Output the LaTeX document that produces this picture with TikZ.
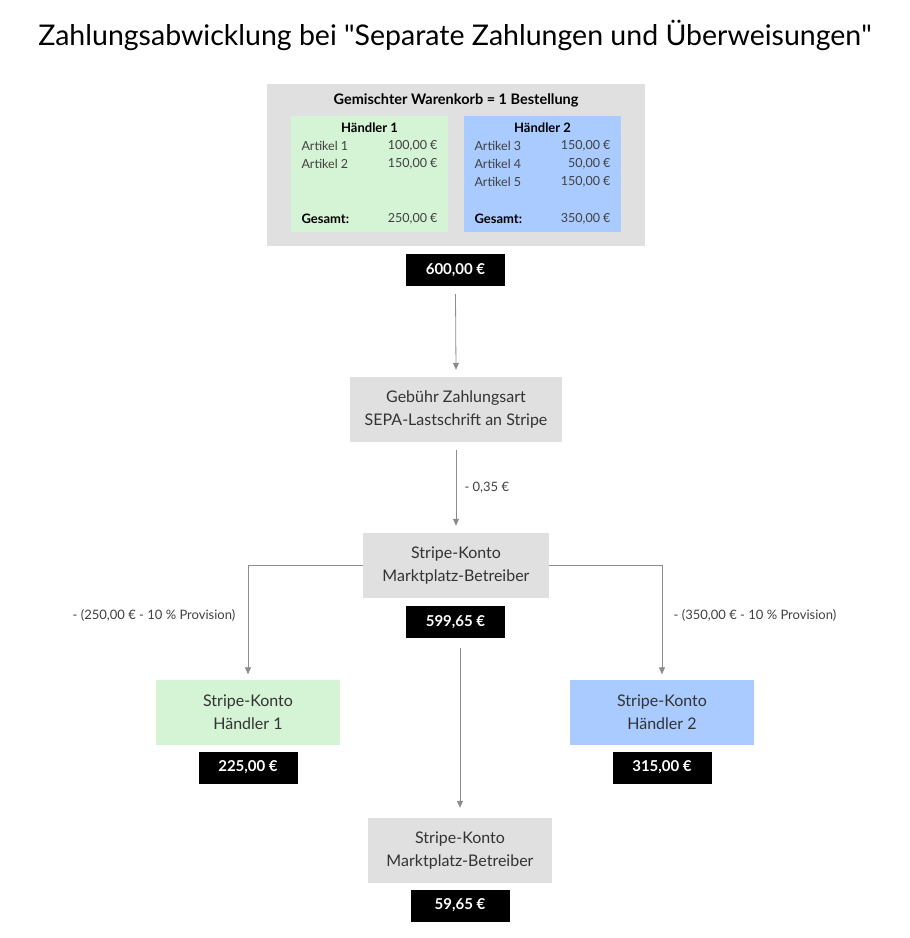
\documentclass[tikz,border=0pt]{standalone}
\usepackage{fontspec}
\setmainfont{Lato}
\usetikzlibrary{arrows.meta}
\definecolor{gbox}{HTML}{E0E0E0}
\definecolor{grn}{HTML}{D5F3D5}
\definecolor{blu}{HTML}{A9CBFF}
\definecolor{arr}{HTML}{8C8C8C}
\tikzset{
 box/.style={fill=gbox,draw=none,minimum width=#1,minimum height=65pt,align=center,font=\fontsize{16}{23}\selectfont,text=black!80},
 money/.style={fill=black,text=white,minimum width=99pt,minimum height=32pt,font=\fontsize{15}{18}\selectfont\bfseries},
 con/.style={draw=arr,line width=0.8pt,-{Triangle[length=7pt,width=6pt]}},
 lbl/.style={font=\fontsize{13}{15}\selectfont,text=black!75},
 sm/.style={font=\fontsize{12.5}{15}\selectfont,text=black!75}
}
\begin{document}
\begin{tikzpicture}[x=1pt,y=-1pt]
\useasboundingbox (0,0) rectangle (910,938);
\node[font=\fontsize{28.5}{32}\selectfont] (title) at (455,35) {Zahlungsabwicklung bei \textquotedbl Separate Zahlungen und Überweisungen\textquotedbl};
\fill[gbox] (267,84) rectangle (645,246);
\node[font=\fontsize{14.5}{16}\selectfont\bfseries] (cart) at (456,100) {Gemischter Warenkorb = 1 Bestellung};
\fill[grn] (291,116) rectangle (448,232);
\fill[blu] (464,116) rectangle (621,232);
\node[font=\fontsize{13}{15}\selectfont\bfseries] (h1t) at (369.5,128) {Händler 1};
\node[font=\fontsize{13}{15}\selectfont\bfseries] (h2t) at (542.5,128) {Händler 2};
\node[sm,anchor=west] (a1) at (298,146) {Artikel 1};
\node[sm,anchor=east] (p1) at (441,146) {100,00 €};
\node[sm,anchor=west] (a2) at (298,164) {Artikel 2};
\node[sm,anchor=east] (p2) at (441,164) {150,00 €};
\node[font=\fontsize{13}{15}\selectfont\bfseries,anchor=west] (g1) at (298,219) {Gesamt:};
\node[sm,anchor=east] (gp1) at (441,219) {250,00 €};
\node[sm,anchor=west] (a3) at (471,146) {Artikel 3};
\node[sm,anchor=east] (p3) at (614,146) {150,00 €};
\node[sm,anchor=west] (a4) at (471,164) {Artikel 4};
\node[sm,anchor=east] (p4) at (614,164) {50,00 €};
\node[sm,anchor=west] (a5) at (471,182) {Artikel 5};
\node[sm,anchor=east] (p5) at (614,182) {150,00 €};
\node[font=\fontsize{13}{15}\selectfont\bfseries,anchor=west] (g2) at (471,219) {Gesamt:};
\node[sm,anchor=east] (gp2) at (614,219) {350,00 €};
\node[money] (m600) at (455.5,270) {600,00 €};
\node[box=212pt] (fee) at (456,409.5) {Gebühr Zahlungsart\\SEPA-Lastschrift an Stripe};
\node[box=186pt] (mp) at (456,565.5) {Stripe-Konto\\Marktplatz-Betreiber};
\node[money] (m599) at (455.5,622) {599,65 €};
\node[box=184pt,fill=grn] (sh1) at (248,712) {Stripe-Konto\\Händler 1};
\node[money] (m225) at (248,767.5) {225,00 €};
\node[box=184pt,fill=blu] (sh2) at (662,712) {Stripe-Konto\\Händler 2};
\node[money] (m315) at (662,767.5) {315,00 €};
\node[box=184pt] (mp2) at (460,850.5) {Stripe-Konto\\Marktplatz-Betreiber};
\node[money] (m5965) at (460,905.5) {59,65 €};
\draw[con] ([yshift=-8pt]m600.south) -- ([yshift=7pt]fee.north);
\draw[con] ([yshift=-8pt]fee.south) -- ([yshift=7pt]mp.north);
\node[lbl,anchor=west] (l1) at (461,488) {- 0,35 €};
\draw[con] (mp.west) -| ([yshift=5pt]sh1.north);
\draw[con] (mp.east) -| ([yshift=5pt]sh2.north);
\node[lbl] (l2) at (154,615) {- (250,00 € - 10 \% Provision)};
\node[lbl] (l3) at (755,615) {- (350,00 € - 10 \% Provision)};
\draw[con] ([xshift=4.5pt,yshift=-10pt]m599.south) -- ([yshift=10pt]mp2.north);
\end{tikzpicture}
\end{document}
